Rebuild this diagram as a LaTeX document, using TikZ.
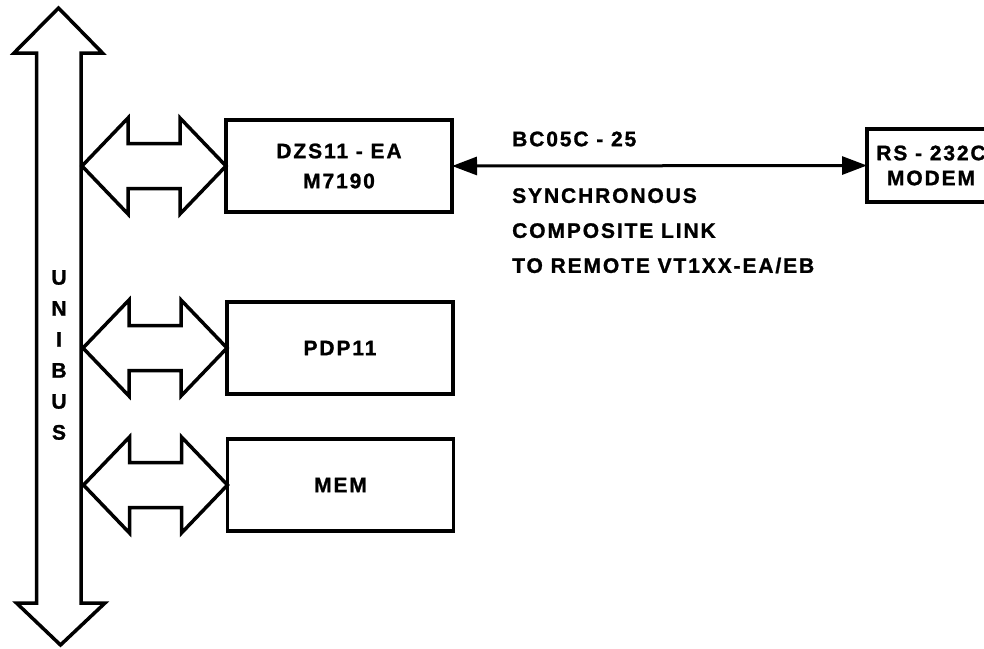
\documentclass[tikz,border=0pt]{standalone}
\usepackage{fontspec}
\newfontfamily\labfont{Liberation Sans Bold}[LetterSpace=9, FakeBold=1.2]
\usepackage{tikz}
\usetikzlibrary{arrows.meta,positioning,calc}

\begin{document}
\begin{tikzpicture}[
    x=1pt, y=-1pt,
    unit/.style={draw, line width=3.5pt, outer sep=0pt, minimum width=226pt, minimum height=92pt, align=center, font=\labfont\fontsize{21}{30}\selectfont},
    label/.style={font=\labfont\fontsize{21}{35}\selectfont, inner sep=0pt, align=left},
    fat/.style={draw, line width=3.5pt, line join=miter},
    link/.style={line width=3pt, {Triangle[length=25pt,width=18pt]}-{Triangle[length=25pt,width=18pt]}}
  ]
  \useasboundingbox (0,0) rectangle (984,648);

  % the bus
  \coordinate (bustop) at (58.5,8);
  \coordinate (busbot) at (60.5,645);
  \draw[fat] (bustop) -- ++(44,45) -- ++(-21.5,0) -- ++(0,550) -- ++(24,0) -- (busbot)
    -- ++(-44,-42) -- ++(20,0) -- ++(0,-550) -- ++(-22.5,0) -- cycle;
  \node[label, align=center, font=\labfont\fontsize{21}{31}\selectfont] (busname) at (59,355) {U\\N\\I\\B\\U\\S};

  \node[unit] (dzs) at (339,166) {DZS11 - EA\\M7190};
  \node[unit] (pdp) at (340,348) {PDP11};
  \node[unit] (mem) at (340.5,485) {MEM};
  \node[unit, minimum width=128pt, minimum height=73pt, font=\labfont\fontsize{21}{25}\selectfont] (modem) at (931,165.5) {RS - 232C\\MODEM};

  % bus to units
  \foreach \b in {dzs,pdp,mem}
    \draw[fat] (\b.west) -- ++(-46,-48) -- ++(0,25.5) -- ++(-52,0) -- ++(0,-25.5) -- ++(-46,48)
      -- ++(46,48) -- ++(0,-25.5) -- ++(52,0) -- ++(0,25.5) -- cycle;

  \draw[link] (dzs.east) -- (modem.west);
  \node[label, anchor=west] (cable) at (512,139) {BC05C - 25};
  \node[label, anchor=north west] (desc) at (512,188) {SYNCHRONOUS\\COMPOSITE LINK\\TO REMOTE VT1XX-EA/EB};
\end{tikzpicture}
\end{document}
